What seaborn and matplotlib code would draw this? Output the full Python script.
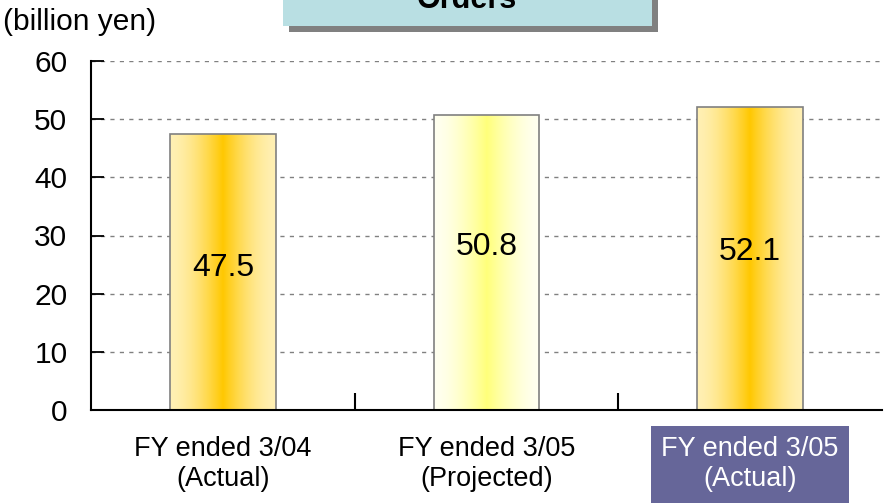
import numpy as np
import seaborn as sns
import matplotlib.pyplot as plt
from matplotlib.patches import Rectangle
from matplotlib.colors import to_rgb

# 資料
categories = ["FY ended 3/04\n(Actual)", "FY ended 3/05\n(Projected)", "FY ended 3/05\n(Actual)"]
orders = [47.5, 50.8, 52.1]
y_ticks = [0, 10, 20, 30, 40, 50, 60]

# 樣式
label_y = [24.4, 28.0, 27.2]
edge_colors = ["#FFF0B4", "#FFFFF0", "#FFF0B4"]
center_colors = ["#FFC800", "#FFFF7A", "#FFC800"]

sns.set_theme(style="white")
plt.rcParams['font.family'] = ['Liberation Sans', 'DejaVu Sans']
plt.rcParams['text.color'] = 'black'
plt.rcParams['xtick.color'] = 'black'
plt.rcParams['ytick.color'] = 'black'

fig = plt.figure(figsize=(8.86, 5.04), dpi=100)
ax = fig.add_axes([91/886, 94/504, 791/886, 349/504])

sns.barplot(x=categories, y=orders, width=0.4, color="white",
            edgecolor="#808080", linewidth=1.2, ax=ax)

# 漸層填色
t = np.linspace(0, 1, 200)
prof = 1 - np.abs(2 * t - 1)
prof = prof ** 1.6
for p, ec, cc in zip(ax.patches, edge_colors, center_colors):
    x0, y0 = p.get_x(), p.get_y()
    w, h = p.get_width(), p.get_height()
    e, c = np.array(to_rgb(ec)), np.array(to_rgb(cc))
    grad = e[None, :] + (c - e)[None, :] * prof[:, None]
    img = ax.imshow(grad[None, :, :], extent=[x0, x0 + w, y0, y0 + h],
                    aspect="auto", zorder=p.get_zorder() - 0.1, interpolation="bilinear")
    img.set_clip_path(p)
    p.set_facecolor("none")

for i, (v, ly) in enumerate(zip(orders, label_y)):
    ax.text(i, ly, f"{v:.1f}", ha="center", va="center", fontsize=23, color="black", zorder=5)

ax.set_xlim(-0.5, 2.5)
ax.set_ylim(0, 60)
ax.set_yticks(y_ticks)
ax.set_yticklabels([str(v) for v in y_ticks], fontsize=21.5)
ax.set_xticks([0.5, 1.5], minor=True)
ax.tick_params(axis="x", which="major", length=0, pad=19, labelsize=19.5)
ax.tick_params(axis="x", which="minor", direction="in", length=12, width=1.5, color="black", bottom=True)
ax.tick_params(axis="y", direction="in", length=9, width=1.3, color="black", left=True, pad=17)

for yv in y_ticks[1:]:
    ax.axhline(yv, color="#808080", lw=1.0, ls=(0, (3, 3.8)), zorder=0)

for s in ["top", "right"]:
    ax.spines[s].set_visible(False)
for s in ["left", "bottom"]:
    ax.spines[s].set_color("black")
    ax.spines[s].set_linewidth(1.5)

ax.set_ylabel("")
ax.set_xlabel("")
ax.set_xticklabels(categories, linespacing=1.2)
lab = ax.get_xticklabels()[2]
lab.set_color("white")
lab.set_bbox(dict(boxstyle="square,pad=0.38", facecolor="#666699", edgecolor="none"))

# 標題框
fig.patches.append(Rectangle((289/886, 1 - 32/504), 369/886, 0.1, transform=fig.transFigure,
                             facecolor="#808080", edgecolor="none", zorder=1))
fig.patches.append(Rectangle((283/886, 1 - 26/504), 369/886, 0.1, transform=fig.transFigure,
                             facecolor="#B9DFE3", edgecolor="none", zorder=2))
fig.text(467/886, 1 - 8/504, "Orders", ha="center", va="baseline", fontsize=22,
         fontweight="bold", zorder=3)

fig.text(3/886, 1 - 22/504, "(billion yen)", ha="left", va="center", fontsize=21.5)

fig.savefig("out.png", dpi=100)
